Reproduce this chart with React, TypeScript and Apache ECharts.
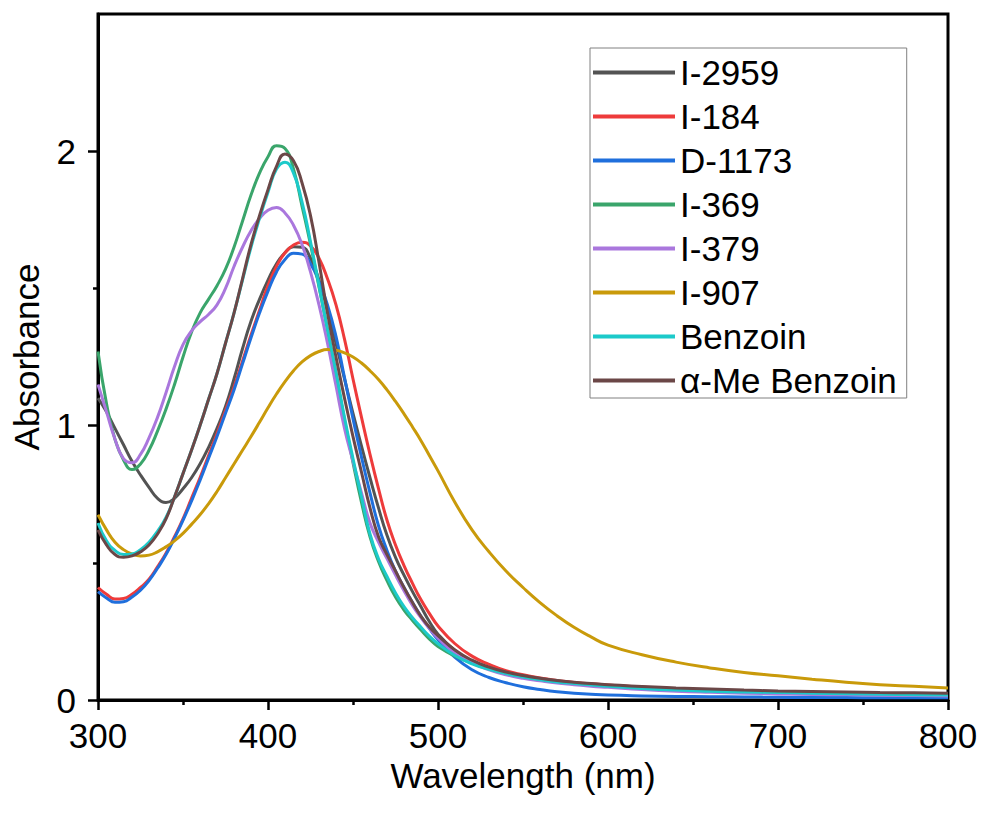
import React, { useEffect, useRef } from "react";
import * as echarts from "echarts";

const wavelengths = [
  300, 305, 310, 315, 320, 325, 330, 335, 340, 345,
  350, 355, 360, 365, 370, 375, 380, 385, 390, 395,
  400, 405, 410, 415, 420, 425, 430, 435, 440, 445,
  450, 455, 460, 465, 470, 475, 480, 485, 490, 495,
  500, 510, 520, 530, 540, 550, 560, 570, 580, 590,
  600, 620, 640, 660, 680, 700, 720, 740, 760, 780, 800,
];

const seriesNames = ["I-2959", "I-184", "D-1173", "I-369", "I-379", "I-907", "Benzoin", "α-Me Benzoin"];
const seriesColors = ["#535353", "#ee3b3b", "#1f6fdc", "#3aa56b", "#aa77dd", "#c99a0a", "#1ccaca", "#6b4747"];

const i2959 = [
  1.10, 1.05, 0.99, 0.93, 0.87, 0.82, 0.775, 0.735, 0.72, 0.735,
  0.77, 0.81, 0.86, 0.92, 0.99, 1.07, 1.17, 1.28, 1.38, 1.46,
  1.53, 1.59, 1.63, 1.652, 1.65, 1.61, 1.53, 1.42, 1.30, 1.17,
  1.045, 0.925, 0.81, 0.70, 0.60, 0.52, 0.455, 0.395, 0.34, 0.285,
  0.24, 0.18, 0.14, 0.115, 0.096, 0.083, 0.073, 0.065, 0.059, 0.054,
  0.05, 0.044, 0.039, 0.035, 0.031, 0.028, 0.026, 0.024, 0.022, 0.021, 0.02,
];
const i184 = [
  0.41, 0.385, 0.368, 0.37, 0.385, 0.41, 0.44, 0.485, 0.535, 0.595,
  0.66, 0.735, 0.81, 0.89, 0.97, 1.055, 1.14, 1.235, 1.33, 1.42,
  1.51, 1.58, 1.63, 1.658, 1.668, 1.655, 1.61, 1.535, 1.44, 1.315,
  1.17, 1.03, 0.895, 0.77, 0.655, 0.565, 0.49, 0.425, 0.365, 0.315,
  0.27, 0.205, 0.16, 0.13, 0.107, 0.092, 0.08, 0.071, 0.064, 0.059,
  0.055, 0.047, 0.041, 0.037, 0.033, 0.03, 0.027, 0.025, 0.023, 0.021, 0.02,
];
const d1173 = [
  0.395, 0.372, 0.356, 0.358, 0.375, 0.40, 0.435, 0.48, 0.53, 0.59,
  0.655, 0.725, 0.80, 0.88, 0.96, 1.045, 1.13, 1.225, 1.32, 1.41,
  1.49, 1.56, 1.605, 1.628, 1.625, 1.59, 1.525, 1.44, 1.325, 1.175,
  1.025, 0.885, 0.755, 0.635, 0.545, 0.47, 0.41, 0.355, 0.305, 0.26,
  0.22, 0.155, 0.11, 0.082, 0.063, 0.048, 0.038, 0.03, 0.025, 0.021,
  0.018, 0.015, 0.013, 0.012, 0.011, 0.01, 0.009, 0.009, 0.008, 0.008, 0.008,
];
const i369 = [
  1.27, 1.08, 0.95, 0.875, 0.84, 0.86, 0.91, 0.98, 1.06, 1.15,
  1.25, 1.34, 1.41, 1.46, 1.51, 1.57, 1.65, 1.745, 1.84, 1.92,
  1.98, 2.02, 2.01, 1.935, 1.80, 1.66, 1.505, 1.35, 1.185, 1.02,
  0.865, 0.72, 0.595, 0.505, 0.435, 0.375, 0.328, 0.29, 0.255, 0.222,
  0.195, 0.16, 0.135, 0.115, 0.099, 0.087, 0.077, 0.069, 0.062, 0.057,
  0.052, 0.045, 0.039, 0.035, 0.031, 0.028, 0.026, 0.024, 0.022, 0.021, 0.02,
];
const i379 = [
  1.15, 1.05, 0.95, 0.88, 0.865, 0.895, 0.955, 1.03, 1.12, 1.215,
  1.295, 1.345, 1.378, 1.405, 1.44, 1.50, 1.58, 1.65, 1.71, 1.755,
  1.785, 1.795, 1.775, 1.73, 1.66, 1.56, 1.44, 1.30, 1.145, 0.99,
  0.87, 0.755, 0.645, 0.575, 0.515, 0.455, 0.398, 0.345, 0.30, 0.26,
  0.225, 0.17, 0.135, 0.11, 0.092, 0.079, 0.07, 0.062, 0.056, 0.05,
  0.046, 0.038, 0.032, 0.028, 0.025, 0.022, 0.02, 0.019, 0.017, 0.016, 0.015,
];
const i907 = [
  0.675, 0.62, 0.575, 0.548, 0.532, 0.525, 0.528, 0.54, 0.558, 0.58,
  0.607, 0.64, 0.675, 0.715, 0.76, 0.81, 0.86, 0.91, 0.96, 1.012,
  1.065, 1.115, 1.16, 1.20, 1.232, 1.255, 1.27, 1.277, 1.275, 1.265,
  1.25, 1.228, 1.20, 1.168, 1.13, 1.088, 1.043, 0.995, 0.945, 0.89,
  0.835, 0.72, 0.62, 0.54, 0.47, 0.41, 0.355, 0.307, 0.265, 0.23,
  0.20, 0.165, 0.138, 0.117, 0.10, 0.088, 0.076, 0.065, 0.056, 0.05, 0.044,
];
const benzoin = [
  0.645, 0.58, 0.545, 0.53, 0.532, 0.548, 0.575, 0.615, 0.665, 0.74,
  0.825, 0.91, 1.00, 1.095, 1.19, 1.30, 1.41, 1.53, 1.65, 1.755,
  1.85, 1.935, 1.96, 1.92, 1.815, 1.67, 1.51, 1.35, 1.195, 1.03,
  0.88, 0.74, 0.605, 0.515, 0.45, 0.39, 0.34, 0.30, 0.265, 0.232,
  0.205, 0.162, 0.132, 0.112, 0.096, 0.084, 0.074, 0.066, 0.06, 0.055,
  0.05, 0.042, 0.036, 0.032, 0.029, 0.027, 0.025, 0.023, 0.021, 0.019, 0.018,
];
const aMeBenzoin = [
  0.62, 0.565, 0.53, 0.52, 0.525, 0.54, 0.565, 0.605, 0.66, 0.74,
  0.825, 0.91, 1.00, 1.095, 1.19, 1.30, 1.41, 1.535, 1.66, 1.765,
  1.86, 1.945, 1.99, 1.965, 1.885, 1.765, 1.595, 1.41, 1.25, 1.10,
  0.96, 0.83, 0.70, 0.595, 0.53, 0.47, 0.41, 0.355, 0.305, 0.265,
  0.235, 0.182, 0.145, 0.12, 0.102, 0.089, 0.079, 0.071, 0.065, 0.06,
  0.056, 0.049, 0.044, 0.04, 0.036, 0.033, 0.031, 0.029, 0.027, 0.026, 0.025,
];

const yLabelTicks = [0, 1, 2];
const yMinorTicks = [0.5, 1.5];

export default function App() {
  const ref = useRef<HTMLDivElement>(null);

  useEffect(() => {
    if (!ref.current) return;
    const chart = echarts.init(ref.current, null, { renderer: "svg" });
    const values = [i2959, i184, d1173, i369, i379, i907, benzoin, aMeBenzoin];
    const font = "'Liberation Sans', Arial, Helvetica, sans-serif";

    chart.setOption({
      animation: false,
      backgroundColor: "#ffffff",
      grid: {
        left: 98,
        right: 36,
        top: 14,
        bottom: 115,
        show: true,
        borderColor: "#000",
        borderWidth: 3,
        backgroundColor: "transparent",
      },
      legend: {
        orient: "vertical",
        left: 590,
        top: 48,
        icon: "rect",
        itemWidth: 82,
        itemHeight: 4,
        itemGap: 9,
        padding: [7, 10, 0, 3],
        borderColor: "#808080",
        borderWidth: 1,
        textStyle: { fontSize: 35, color: "#000", fontFamily: font },
        data: seriesNames,
      },
      xAxis: {
        type: "value",
        min: 300,
        max: 800,
        interval: 100,
        name: "Wavelength (nm)",
        nameLocation: "middle",
        nameGap: 52,
        nameTextStyle: { fontSize: 35, color: "#000", fontFamily: font },
        axisLine: { show: true, onZero: false, lineStyle: { color: "#000", width: 3 } },
        axisTick: { show: true, inside: false, length: 10, lineStyle: { color: "#000", width: 2.5 } },
        minorTick: { show: true, splitNumber: 2, length: 5, lineStyle: { color: "#000", width: 2.5 } },
        axisLabel: { fontSize: 35, color: "#000", margin: 18, fontFamily: font },
        splitLine: { show: false },
        minorSplitLine: { show: false },
      },
      yAxis: [
        {
          type: "value",
          min: 0,
          max: 2.5,
          interval: 0.5,
          name: "Absorbance",
          nameLocation: "middle",
          nameGap: 54,
          nameTextStyle: { fontSize: 35, color: "#000", fontFamily: font },
          axisLine: { show: true, onZero: false, lineStyle: { color: "#000", width: 3 } },
          axisTick: {
            show: true,
            inside: false,
            length: 10,
            customValues: yLabelTicks,
            lineStyle: { color: "#000", width: 2.5 },
          },
          axisLabel: { fontSize: 35, color: "#000", margin: 22, fontFamily: font, customValues: yLabelTicks },
          splitLine: { show: false },
        },
        {
          type: "value",
          min: 0,
          max: 2.5,
          interval: 0.5,
          position: "left",
          axisLine: { show: false },
          axisTick: {
            show: true,
            inside: false,
            length: 5,
            customValues: yMinorTicks,
            lineStyle: { color: "#000", width: 2.5 },
          },
          axisLabel: { show: false },
          splitLine: { show: false },
        },
      ],
      series: seriesNames.map((name, i) => ({
        name,
        type: "line",
        yAxisIndex: 0,
        data: wavelengths.map((w, j) => [w, values[i][j]]),
        symbol: "none",
        showSymbol: false,
        smooth: 0.5,
        color: seriesColors[i],
        itemStyle: { color: seriesColors[i] },
        lineStyle: { color: seriesColors[i], width: 3 },
        z: 2 + i,
      })),
    });

    return () => chart.dispose();
  }, []);

  return (
    <div
      ref={ref}
      style={{ position: "fixed", left: 0, top: 0, width: 984, height: 815, background: "#fff" }}
    />
  );
}
